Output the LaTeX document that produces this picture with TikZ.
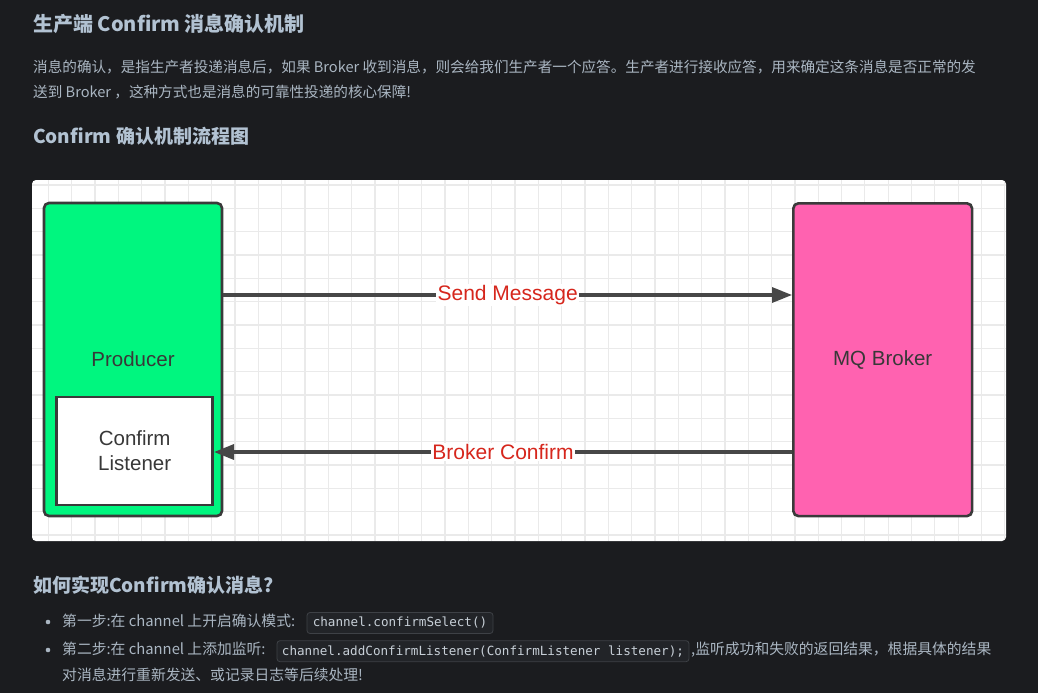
\documentclass[tikz,border=0pt]{standalone}
\usepackage{fontspec}
\setmainfont{Noto Sans CJK SC}
\newfontfamily\diagfont{Liberation Sans}
\newfontfamily\codefont{DejaVu Sans Mono}
\usetikzlibrary{arrows.meta}

\definecolor{pagebg}{RGB}{27,28,31}
\definecolor{headtext}{RGB}{178,194,210}
\definecolor{bodytext}{RGB}{170,182,194}
\definecolor{codebg}{RGB}{34,36,40}
\definecolor{codeborder}{RGB}{62,65,70}
\definecolor{codetext}{RGB}{200,208,216}
\definecolor{gridgray}{RGB}{234,234,234}
\definecolor{boxline}{RGB}{58,58,58}
\definecolor{producergreen}{RGB}{0,246,127}
\definecolor{brokerpink}{RGB}{255,98,176}
\definecolor{labelred}{RGB}{214,38,28}

\begin{document}
\begin{tikzpicture}[x=1pt,y=-1pt,
  heading/.style={anchor=base west,inner sep=0,text=headtext,font=\bfseries\fontsize{19}{23}\selectfont},
  body/.style={anchor=base west,inner sep=0,text=bodytext,font=\fontsize{14.8}{18}\selectfont},
  codebox/.style={draw=codeborder,fill=codebg,rounded corners=3pt,line width=0.8pt,text=codetext,font=\codefont\fontsize{12.6}{15}\selectfont,inner sep=0,minimum height=21pt},
  block/.style={draw=boxline,line width=2.6pt,rounded corners=5pt,text=black!78,font=\diagfont\fontsize{20.5}{25}\selectfont},
  flow/.style={draw=black!72,line width=3.2pt,-{Triangle[length=20pt,width=15pt]}},
  flowlabel/.style={fill=white,inner sep=1.5pt,text=labelred,font=\diagfont\fontsize{21}{25}\selectfont}]

\useasboundingbox (0,0) rectangle (1038,693);
\fill[pagebg] (0,0) rectangle (1038,693);

% page text, top
\node[heading,font=\bfseries\fontsize{20}{24}\selectfont] (title) at (33,31.5) {生产端 Confirm 消息确认机制};
\node[body,font=\fontsize{14.6}{18}\selectfont] (para1) at (33,72.7) {消息的确认，是指生产者投递消息后，如果 Broker 收到消息，则会给我们生产者一个应答。生产者进行接收应答，用来确定这条消息是否正常的发};
\node[body,font=\fontsize{14.6}{18}\selectfont] (para2) at (33,97) {送到 Broker ，这种方式也是消息的可靠性投递的核心保障!};
\node[heading] (flowtitle) at (33,143) {Confirm 确认机制流程图};

% diagram panel
\fill[white,rounded corners=4pt] (32,180) rectangle (1006,541);
\begin{scope}
\clip[rounded corners=4pt] (32,180) rectangle (1006,541);
\foreach \k in {0,...,42}
  \draw[gridgray,line width=1.2pt] ({25+23.33*\k},180) -- ++(0,361);
\foreach \k in {0,...,15}
  \draw[gridgray,line width=1.2pt] (32,{185+23.33*\k}) -- ++(974,0);
\end{scope}

\node[block,fill=producergreen,minimum width=178pt,minimum height=313pt] (producer) at (133,359.5) {Producer};
\node[block,fill=white,rounded corners=0pt,minimum width=156pt,minimum height=108pt,align=center] (listener) at (134.7,450.8) {Confirm\\Listener};
\node[block,fill=brokerpink,minimum width=178.7pt,minimum height=312.7pt] (broker) at (882.7,359.7) {MQ Broker};

\coordinate (sendstart) at ([yshift=64.5pt]producer.east);
\coordinate (confirmstart) at ([yshift=-92.3pt]broker.west);

\draw[flow] (sendstart) -- (sendstart -| broker.west) node[flowlabel,midway] (sendlabel) {Send Message}; %send
\draw[flow] (confirmstart) -- (confirmstart -| listener.east) node[flowlabel,midway] (confirmlabel) {Broker Confirm}; %confirm

% page text, bottom
\node[heading] (howtitle) at (33,592) {如何实现Confirm确认消息?};

\fill[bodytext] (48,622) circle (2.3);
\node[body] (step1) at (62,626.5) {第一步:在 channel 上开启确认模式:};
\node[codebox,minimum width=186pt] (code1) at (400,623) {channel.confirmSelect()};

\fill[bodytext] (48,650) circle (2.3);
\node[body] (step2) at (62,654.5) {第二步:在 channel 上添加监听:};
\node[codebox,minimum width=412pt] (code2) at (483,651.2) {channel.addConfirmListener(ConfirmListener listener);};
\node[body] (step2rest) at (691,654.5) {,监听成功和失败的返回结果，根据具体的结果};
\node[body] (step2more) at (62,680) {对消息进行重新发送、或记录日志等后续处理!};
\end{tikzpicture}
\end{document}
